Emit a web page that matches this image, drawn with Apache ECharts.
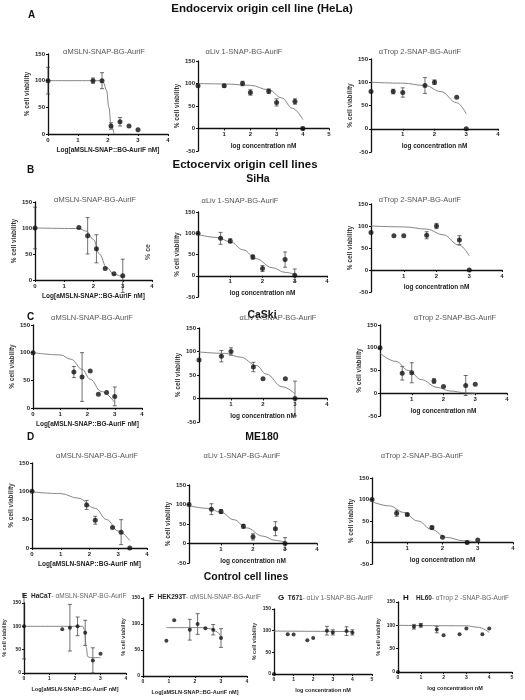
<!DOCTYPE html>
<html>
<head>
<meta charset="utf-8">
<script src="https://cdn.jsdelivr.net/npm/echarts@6/dist/echarts.min.js"></script>
<style>
  html, body { margin: 0; padding: 0; background: #fff; }
  #chart { width: 525px; height: 700px; }
</style>
</head>
<body>
<div id="chart"></div>
<script>
// points: [x, y, err]   fit: [x, y]
const a1Pts = [[0, 100, 25], [1.5, 100, 5], [1.8, 100, 15], [2.1, 15, 6], [2.4, 23, 8], [2.7, 15, 0], [3, 8, 0]];
const a1Fit = [[0, 100], [1.7, 100], [1.85, 96], [1.95, 82], [2.03, 50], [2.1, 18], [2.2, 0]];
const a2Pts = [[0, 95, 0], [1, 95, 3], [1.7, 100, 5], [2, 80, 6], [2.7, 83, 5], [3, 58, 8], [3.7, 60, 6], [4, 0, 3]];
const a2Fit = [[0, 100], [1, 99], [2, 96], [2.7, 86], [3.2, 68], [3.6, 45], [4, 20]];
const a3Pts = [[0, 80, 0], [0.7, 80, 5], [1, 78, 10], [1.7, 93, 17], [2, 100, 5], [2.7, 68, 0], [3, 0, 0]];
const a3Fit = [[0, 100], [1, 98], [1.7, 93], [2.2, 80], [2.7, 56], [3, 32]];

const b1Pts = [[0, 100, 40], [1.5, 101, 0], [1.8, 85, 35], [2.1, 60, 27], [2.4, 22, 0], [2.7, 12, 0], [3, 8, 32]];
const b1Fit = [[0, 100], [1.5, 99], [1.75, 94], [2, 78], [2.2, 50], [2.45, 24], [2.7, 11], [3, 5]];
const b2Pts = [[0, 100, 0], [0.7, 88, 14], [1, 82, 5], [1.7, 44, 5], [2, 17, 7], [2.7, 38, 18], [3, 1, 15]];
const b2Fit = [[0, 97], [0.6, 90], [1, 80], [1.4, 61], [1.8, 40], [2.3, 19], [2.7, 8], [3, 3]];
const b3Pts = [[0, 85, 0], [0.7, 78, 0], [1, 78, 0], [1.7, 79, 8], [2, 100, 6], [2.7, 68, 10], [3, 0, 0]];
const b3Fit = [[0, 100], [1, 98], [1.7, 93], [2.2, 80], [2.7, 56], [3, 32]];

const c1Pts = [[0, 100, 0], [1.5, 65, 10], [1.8, 56, 44], [2.1, 67, 0], [2.4, 25, 0], [2.7, 28, 0], [3, 21, 17]];
const c1Fit = [[0, 100], [1, 96], [1.4, 88], [1.8, 70], [2.1, 52], [2.5, 30], [3, 10]];
const c2Pts = [[0, 82, 0], [0.7, 90, 12], [1, 100, 8], [1.7, 67, 10], [2, 42, 0], [2.7, 42, 0], [3, 0, 37]];
const c2Fit = [[0, 99], [0.8, 96], [1.3, 88], [1.8, 70], [2.1, 52], [2.6, 25], [3, 10]];
const c3Pts = [[0, 100, 0], [0.7, 44, 15], [1, 45, 22], [1.7, 27, 5], [2, 15, 0], [2.7, 17, 22], [3, 20, 0]];
const c3Fit = [[0, 88], [0.5, 70], [0.9, 50], [1.3, 30], [1.8, 13], [2.2, 5], [2.7, 1], [3, 0]];

const d1Pts = [[0, 100, 0], [1.9, 76, 8], [2.2, 49, 7], [2.8, 36, 0], [3.1, 28, 22], [3.4, 0, 0]];
const d1Fit = [[0, 99], [1, 96], [1.6, 88], [2.2, 70], [2.6, 50], [3, 30], [3.4, 13]];
const d2Pts = [[0, 100, 0], [0.7, 88, 14], [1, 82, 5], [1.7, 44, 5], [2, 17, 8], [2.7, 38, 18], [3, 0, 15]];
const d2Fit = [[0, 97], [0.6, 90], [1, 80], [1.4, 61], [1.8, 40], [2.3, 19], [2.7, 8], [3, 3]];
const d3Pts = [[0, 100, 0], [0.7, 68, 7], [1, 65, 3], [1.7, 35, 3], [2, 12, 0], [2.7, 0, 3], [3, 6, 0]];
const d3Fit = [[0, 95], [0.5, 85], [0.9, 70], [1.3, 50], [1.7, 30], [2.1, 12], [2.6, 4], [3, 1]];

const ePts = [[0, 100, 70], [1.5, 94, 0], [1.8, 97, 50], [2.1, 100, 20], [2.4, 86, 27], [2.7, 27, 27], [3, 41, 0]];
const eFit = [[0, 100], [2.3, 100], [2.38, 92], [2.44, 55], [2.5, 35], [2.6, 33], [3, 33]];
const fPts = [[0.9, 68, 0], [1.2, 107, 0], [1.8, 89, 20], [2.1, 100, 20], [2.4, 92, 0], [2.7, 89, 10], [3, 73, 18]];
const fFit = [[0.9, 93], [2.3, 93], [2.6, 91], [2.8, 86], [3, 76]];
const gPts = [[0, 0, 0], [0.7, 92, 0], [1, 91, 0], [1.7, 78, 0], [2, 83, 0], [2.7, 100, 10], [3, 96, 6], [3.7, 99, 10], [4, 96, 6]];
const gFit = [[0, 99], [4, 98]];
const hPts = [[0, 0, 0], [0.7, 97, 5], [1, 100, 4], [1.7, 91, 7], [2, 79, 0], [2.7, 81, 0], [3, 93, 0], [3.7, 81, 0], [4, 93, 0]];
const hFit = [[0, 100], [3, 99], [3.5, 96], [4, 85]];

const xLog = 'Log[aMSLN-SNAP::BG-AuriF nM]';
const xConc = 'log concentration nM';

// grid: left, top, width, height (px)
const panels = [
  { g: [48, 54, 120, 80], xMax: 4, yMin: 0, xName: xLog, pts: a1Pts, fit: a1Fit },
  { g: [198, 61, 131, 90], xMax: 5, yMin: -50, xName: xConc, pts: a2Pts, fit: a2Fit },
  { g: [371, 59, 127, 93], xMax: 4, yMin: -50, xName: xConc, pts: a3Pts, fit: a3Fit },
  { g: [35, 202, 117, 78], xMax: 4, yMin: 0, xName: xLog, pts: b1Pts, fit: b1Fit },
  { g: [198, 212, 129, 85], xMax: 4, yMin: -50, xName: xConc, pts: b2Pts, fit: b2Fit },
  { g: [371, 204, 131, 88], xMax: 4, yMin: -50, xName: xConc, pts: b3Pts, fit: b3Fit },
  { g: [33, 325, 109, 83], xMax: 4, yMin: 0, xName: xLog, pts: c1Pts, fit: c1Fit },
  { g: [199, 328, 128, 94], xMax: 4, yMin: -50, xName: xConc, pts: c2Pts, fit: c2Fit },
  { g: [380, 325, 127, 91], xMax: 4, yMin: -50, xName: xConc, pts: c3Pts, fit: c3Fit },
  { g: [32, 463, 115, 85], xMax: 4, yMin: 0, xName: xLog, pts: d1Pts, fit: d1Fit },
  { g: [189, 485, 128, 78], xMax: 4, yMin: -50, xName: xConc, pts: d2Pts, fit: d2Fit },
  { g: [372, 478, 141, 86], xMax: 4, yMin: -50, xName: xConc, pts: d3Pts, fit: d3Fit },
  { g: [24, 603, 102, 70], xMax: 4, yMin: 0, xName: xLog, pts: ePts, fit: eFit, small: true },
  { g: [143, 598, 104, 78], xMax: 4, yMin: 0, xName: xLog, pts: fPts, fit: fFit, small: true },
  { g: [274, 609, 98, 65], xMax: 5, yMin: 0, xName: xConc, pts: gPts, fit: gFit, small: true },
  { g: [398, 602, 114, 70], xMax: 5, yMin: 0, xName: xConc, pts: hPts, fit: hFit, small: true }
];

const FONT = '"Liberation Sans", Arial, sans-serif';
const grid = [], xAxis = [], yAxis = [], series = [];

panels.forEach((p, i) => {
  const fs = p.small ? 5.5 : 6.5;
  // raise x axis to the y=0 line when the y range goes below zero
  const lift = p.yMin < 0 ? -p.g[3] * (-p.yMin) / (150 - p.yMin) : 0;
  grid.push({ left: p.g[0], top: p.g[1], width: p.g[2], height: p.g[3] });
  xAxis.push({
    gridIndex: i, type: 'value', min: 0, max: p.xMax, interval: 1, position: 'bottom', offset: lift,
    name: p.xName, nameLocation: 'middle', nameGap: p.yMin < 0 ? 14 : 13,
    nameTextStyle: { fontSize: fs, fontWeight: 'bold', color: '#222', fontFamily: FONT },
    axisLine: { onZero: false, lineStyle: { color: '#111', width: 1.3 } },
    axisTick: { length: 2, lineStyle: { color: '#111' } },
    axisLabel: { fontSize: fs - 0.5, fontWeight: 'bold', color: '#222', margin: 3, fontFamily: FONT,
      formatter: v => (p.yMin < 0 && v === 0 ? '' : v) },
    splitLine: { show: false }
  });
  yAxis.push({
    gridIndex: i, type: 'value', min: p.yMin, max: 150, interval: 50,
    name: '% cell viability', nameLocation: 'middle', nameGap: 17, nameRotate: 90,
    nameTextStyle: { fontSize: fs, fontWeight: 'bold', color: '#333', fontFamily: FONT },
    axisLine: { show: true, onZero: false, lineStyle: { color: '#111', width: 1.3 } },
    axisTick: { show: true, length: 2, lineStyle: { color: '#111' } },
    axisLabel: { fontSize: fs - 0.5, fontWeight: 'bold', color: '#222', margin: 3, fontFamily: FONT },
    splitLine: { show: false }
  });
  series.push({
    type: 'line', xAxisIndex: i, yAxisIndex: i, data: p.fit, smooth: 0.4, smoothMonotone: 'x',
    showSymbol: false, silent: true, lineStyle: { color: '#777', width: 0.9 }
  });
  series.push({
    type: 'custom', xAxisIndex: i, yAxisIndex: i, silent: true,
    data: p.pts.filter(d => d[2] > 0).map(d => [d[0], d[1] - d[2], d[1] + d[2]]),
    renderItem: (params, api) => {
      const lo = api.coord([api.value(0), api.value(1)]);
      const hi = api.coord([api.value(0), api.value(2)]);
      const s = { stroke: '#333', lineWidth: 0.7 };
      return { type: 'group', children: [
        { type: 'line', shape: { x1: lo[0], y1: lo[1], x2: hi[0], y2: hi[1] }, style: s },
        { type: 'line', shape: { x1: lo[0] - 2, y1: lo[1], x2: lo[0] + 2, y2: lo[1] }, style: s },
        { type: 'line', shape: { x1: hi[0] - 2, y1: hi[1], x2: hi[0] + 2, y2: hi[1] }, style: s }
      ] };
    }
  });
  series.push({
    type: 'scatter', xAxisIndex: i, yAxisIndex: i, symbolSize: p.small ? 4 : 5,
    data: p.pts.map(d => [d[0], d[1]]), itemStyle: { color: '#111' }, z: 5
  });
});

function txt(x, y, text, size, weight, align, color, rich) {
  return { type: 'text', x: x, y: y, style: {
    text: text, fontSize: size, fontWeight: weight || 'normal', fontFamily: FONT,
    fill: color || '#111', align: align || 'center', verticalAlign: 'middle', rich: rich } };
}
const subT = ['\u03b1MSLN-SNAP-BG-AuriF', '\u03b1Liv 1-SNAP-BG-AuriF', '\u03b1Trop 2-SNAP-BG-AuriF'];
const richS = { b: { fontWeight: 'bold', fontSize: 6.5, fill: '#222', fontFamily: FONT },
  n: { fontSize: 6.5, fill: '#666', fontFamily: FONT },
  l: { fontWeight: 'bold', fontSize: 8, fill: '#111', fontFamily: FONT } };

const graphic = [
  txt(262, 9, 'Endocervix origin cell line (HeLa)', 11.5, 'bold'),
  txt(28, 15, 'A', 10, 'bold', 'left'),
  txt(104, 52, subT[0], 7.5, 'normal', 'center', '#555'),
  txt(244, 52, subT[1], 7.5, 'normal', 'center', '#555'),
  txt(420, 52, subT[2], 7.5, 'normal', 'center', '#555'),
  txt(245, 165, 'Ectocervix origin cell lines', 11.5, 'bold'),
  txt(258, 179, 'SiHa', 10.5, 'bold'),
  txt(27, 170, 'B', 10, 'bold', 'left'),
  txt(95, 200, subT[0], 7.5, 'normal', 'center', '#555'),
  txt(240, 201, subT[1], 7.5, 'normal', 'center', '#555'),
  txt(420, 200, subT[2], 7.5, 'normal', 'center', '#555'),
  txt(262, 315, 'CaSki', 10.5, 'bold'),
  txt(27, 317, 'C', 10, 'bold', 'left'),
  txt(92, 318, subT[0], 7.5, 'normal', 'center', '#555'),
  txt(278, 318, subT[1], 7.5, 'normal', 'center', '#555'),
  txt(455, 318, subT[2], 7.5, 'normal', 'center', '#555'),
  txt(262, 437, 'ME180', 10.5, 'bold'),
  txt(27, 437, 'D', 10, 'bold', 'left'),
  txt(97, 456, subT[0], 7.5, 'normal', 'center', '#555'),
  txt(242, 456, subT[1], 7.5, 'normal', 'center', '#555'),
  txt(422, 456, subT[2], 7.5, 'normal', 'center', '#555'),
  txt(246, 577, 'Control cell lines', 10.5, 'bold'),
  txt(22, 596, '{l|E}  {b|HaCaT}{n|- \u03b1MSLN-SNAP-BG-AuriF}', 6.5, 'normal', 'left', '#111', richS),
  txt(149, 597, '{l|F}  {b|HEK293T}{n|- \u03b1MSLN-SNAP-BG-AuriF}', 6.5, 'normal', 'left', '#111', richS),
  txt(278, 598, '{l|G}  {b|T671}{n|- \u03b1Liv 1-SNAP-BG-AuriF}', 6.5, 'normal', 'left', '#111', richS),
  txt(403, 598, '{l|H}    {b|HL60}{n|- \u03b1Trop 2 -SNAP-BG-AuriF}', 6.5, 'normal', 'left', '#111', richS),
  { type: 'text', x: 148, y: 252, rotation: Math.PI / 2,
    style: { text: '% ce', fontSize: 7, fontWeight: 'bold', fill: '#444', fontFamily: FONT, align: 'center', verticalAlign: 'middle' } }
];

const chart = echarts.init(document.getElementById('chart'), null, { renderer: 'canvas' });
chart.setOption({ animation: false, backgroundColor: '#fff', grid, xAxis, yAxis, series, graphic });
</script>
</body>
</html>
